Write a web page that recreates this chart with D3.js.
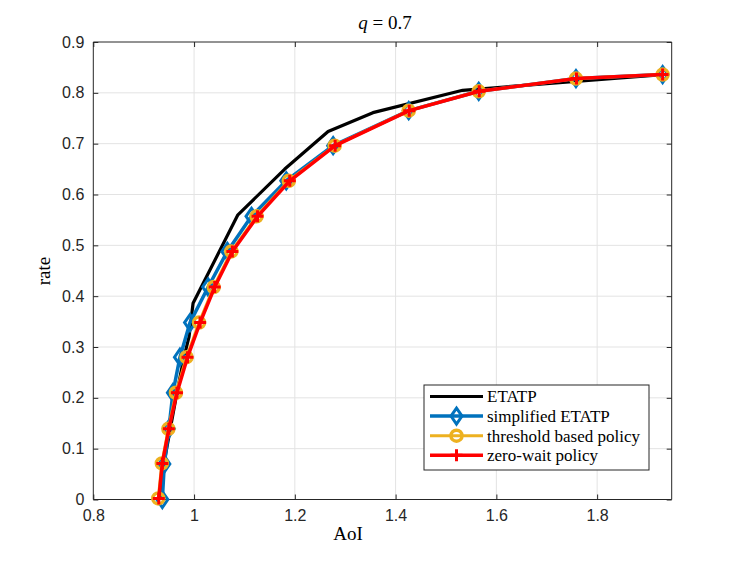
<!DOCTYPE html>
<html>
<head>
<meta charset="utf-8">
<script src="https://cdn.jsdelivr.net/npm/d3@7"></script>
<style>
  body { margin: 0; background: #fff; }
  text { font-family: "Liberation Sans", Arial, sans-serif; }
</style>
</head>
<body>
<div id="chart"></div>
<script>
// AoI vs rate, q = 0.7
const etatpAoI  = [0.935, 0.940, 0.953, 0.966, 0.980, 0.990, 0.998, 1.087, 1.180, 1.266, 1.355, 1.533, 1.930];
const etatpRate = [0.000, 0.070, 0.140, 0.210, 0.280, 0.320, 0.386, 0.560, 0.650, 0.724, 0.761, 0.805, 0.836];

const simpAoI  = [0.937, 0.941, 0.950, 0.958, 0.972, 0.992, 1.028, 1.066, 1.114, 1.183, 1.276, 1.426, 1.565, 1.758, 1.930];
const simpRate = [0.000, 0.070, 0.139, 0.210, 0.280, 0.348, 0.418, 0.488, 0.557, 0.627, 0.696, 0.765, 0.803, 0.828, 0.836];

const thrAoI  = [0.929, 0.936, 0.949, 0.964, 0.985, 1.010, 1.039, 1.074, 1.124, 1.188, 1.279, 1.426, 1.565, 1.758, 1.930];
const thrRate = [0.002, 0.071, 0.139, 0.210, 0.280, 0.348, 0.418, 0.488, 0.557, 0.627, 0.696, 0.765, 0.803, 0.828, 0.836];

const zwAoI  = [0.930, 0.937, 0.950, 0.966, 0.987, 1.012, 1.041, 1.076, 1.126, 1.190, 1.280, 1.427, 1.566, 1.759, 1.930];
const zwRate = [0.002, 0.071, 0.139, 0.210, 0.280, 0.348, 0.418, 0.488, 0.557, 0.627, 0.696, 0.765, 0.803, 0.828, 0.836];

const xTicks = [0.8, 1, 1.2, 1.4, 1.6, 1.8];
const yTicks = [0, 0.1, 0.2, 0.3, 0.4, 0.5, 0.6, 0.7, 0.8, 0.9];
const legendNames = ["ETATP", "simplified ETATP", "threshold based policy", "zero-wait policy"];

const width = 747, height = 561;
const mLeft = 93.3, mRight = 671.7, mTop = 42, mBottom = 499.5;

const x = d3.scaleLinear().domain([0.8, 1.948]).range([mLeft, mRight]);
const y = d3.scaleLinear().domain([0, 0.9]).range([mBottom, mTop]);

const svg = d3.select('#chart').append('svg')
  .attr('width', width).attr('height', height);

svg.append('rect').attr('x', mLeft).attr('y', mTop)
  .attr('width', mRight - mLeft).attr('height', mBottom - mTop).attr('fill', '#fff');

// grid
svg.append('g').selectAll('line').data(xTicks.slice(1)).enter().append('line')
  .attr('x1', d => x(d)).attr('x2', d => x(d)).attr('y1', mTop).attr('y2', mBottom)
  .attr('stroke', '#e3e3e3').attr('stroke-width', 1);
svg.append('g').selectAll('line').data(yTicks.slice(1, -1)).enter().append('line')
  .attr('y1', d => y(d)).attr('y2', d => y(d)).attr('x1', mLeft).attr('x2', mRight)
  .attr('stroke', '#e3e3e3').attr('stroke-width', 1);

// axes
const tickFmt = d => d3.format('')(d);
const xAxis = svg.append('g').attr('transform', `translate(0,${mBottom})`)
  .call(d3.axisBottom(x).tickValues(xTicks).tickSize(-5).tickPadding(10).tickFormat(tickFmt));
const xAxisTop = svg.append('g').attr('transform', `translate(0,${mTop})`)
  .call(d3.axisTop(x).tickValues(xTicks).tickSize(-5).tickFormat(''));
const yAxis = svg.append('g').attr('transform', `translate(${mLeft},0)`)
  .call(d3.axisLeft(y).tickValues(yTicks).tickSize(-5).tickPadding(9).tickFormat(tickFmt));
const yAxisRight = svg.append('g').attr('transform', `translate(${mRight},0)`)
  .call(d3.axisRight(y).tickValues(yTicks).tickSize(-5).tickFormat(''));

[xAxis, xAxisTop, yAxis, yAxisRight].forEach(g => {
  g.select('.domain').attr('stroke', '#262626').attr('stroke-width', 1);
  g.selectAll('.tick line').attr('stroke', '#262626');
  g.selectAll('.tick text').attr('fill', '#262626').style('font-size', '16px')
    .style('font-family', '"Liberation Sans", Arial, sans-serif');
});
xAxis.selectAll('.domain').attr('d', `M${mLeft},0H${mRight}`);
xAxisTop.selectAll('.domain').attr('d', `M${mLeft},0H${mRight}`);
yAxis.selectAll('.domain').attr('d', `M0,${mTop}V${mBottom}`);
yAxisRight.selectAll('.domain').attr('d', `M0,${mTop}V${mBottom}`);

// series
const series = [
  { name: legendNames[0], xs: etatpAoI, ys: etatpRate, color: '#000000', width: 3.2, marker: null },
  { name: legendNames[1], xs: simpAoI, ys: simpRate, color: '#0072BD', width: 3.5, marker: 'diamond' },
  { name: legendNames[2], xs: thrAoI, ys: thrRate, color: '#EDB120', width: 3, marker: 'circle' },
  { name: legendNames[3], xs: zwAoI, ys: zwRate, color: '#FF0000', width: 3.5, marker: 'plus' }
];

const line = d3.line().x(d => x(d[0])).y(d => y(d[1]));

function drawMarker(g, kind, color, cx, cy) {
  if (kind === 'diamond') {
    g.append('path').attr('d', `M${cx},${cy - 8}L${cx + 5.5},${cy}L${cx},${cy + 8}L${cx - 5.5},${cy}Z`)
      .attr('fill', 'none').attr('stroke', color).attr('stroke-width', 3);
  } else if (kind === 'circle') {
    g.append('circle').attr('cx', cx).attr('cy', cy).attr('r', 5.5)
      .attr('fill', 'none').attr('stroke', color).attr('stroke-width', 3.5);
  } else if (kind === 'plus') {
    g.append('path').attr('d', `M${cx - 6},${cy}H${cx + 6}M${cx},${cy - 6}V${cy + 6}`)
      .attr('stroke', color).attr('stroke-width', 3);
  }
}

const plot = svg.append('g');
series.forEach(s => {
  const pts = s.xs.map((v, i) => [v, s.ys[i]]);
  const g = plot.append('g');
  g.append('path').datum(pts).attr('d', line)
    .attr('fill', 'none').attr('stroke', s.color).attr('stroke-width', s.width)
    .attr('stroke-linejoin', 'round');
  if (s.marker) pts.forEach(p => drawMarker(g, s.marker, s.color, x(p[0]), y(p[1])));
});

// legend
const lg = svg.append('g');
lg.append('rect').attr('x', 424).attr('y', 385).attr('width', 225).attr('height', 85)
  .attr('fill', '#fff').attr('stroke', '#262626').attr('stroke-width', 1);
series.forEach((s, i) => {
  const ly = 396.5 + i * 19.6;
  lg.append('line').attr('x1', 430).attr('x2', 483).attr('y1', ly).attr('y2', ly)
    .attr('stroke', s.color).attr('stroke-width', s.width);
  if (s.marker) drawMarker(lg, s.marker, s.color, 456.5, ly);
  lg.append('text').attr('x', 487).attr('y', ly).attr('dy', '0.35em')
    .style('font-family', '"Liberation Serif", "Times New Roman", serif').style('font-size', '17px')
    .attr('fill', '#000').text(s.name);
});

// labels
svg.append('text').attr('x', 348).attr('y', 540).attr('text-anchor', 'middle')
  .style('font-family', '"Liberation Serif", serif').style('font-size', '19px').text('AoI');
svg.append('text').attr('transform', 'translate(50,271) rotate(-90)').attr('text-anchor', 'middle')
  .style('font-family', '"Liberation Serif", serif').style('font-size', '19px').text('rate');
const title = svg.append('text').attr('x', 385).attr('y', 29).attr('text-anchor', 'middle')
  .style('font-family', '"Liberation Serif", serif').style('font-size', '19px');
title.append('tspan').style('font-style', 'italic').text('q');
title.append('tspan').text(' = 0.7');
</script>
</body>
</html>
